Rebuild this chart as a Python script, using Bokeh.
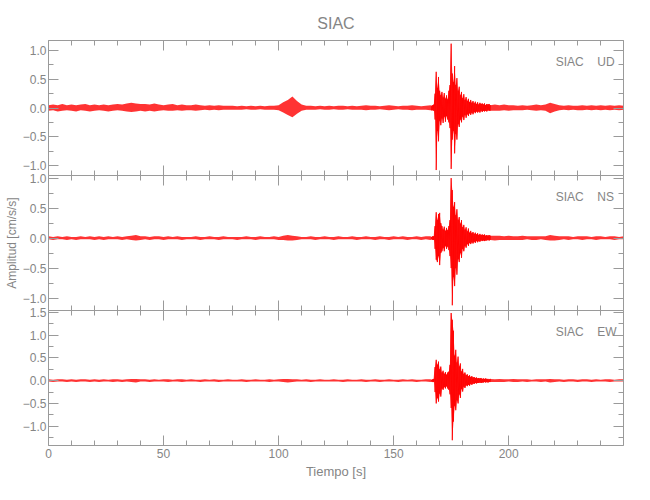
import numpy as np
from bokeh.plotting import figure
from bokeh.layouts import column
from bokeh.models import (LinearAxis, SingleIntervalTicker, FixedTicker, Range1d, Label, Title,
                          CustomJSTickFormatter)
from bokeh.embed import file_html
from bokeh.resources import INLINE

# ---------------- data (envelope of each trace) ----------------
# sample times [s]: quiet part, event part (finer), tail part
t_base = np.arange(0, 167, 2.0)          # 0 .. 166
t_event = np.arange(166.5, 192.01, 0.5)  # 166.5 .. 192
t_tail = np.arange(194, 251, 2.0)        # 194 .. 250

# UD component (upper / lower envelope, cm/s/s)
ud_hi_base = [0.05, 0.06, 0.05, 0.07, 0.05, 0.06, 0.05, 0.06, 0.07, 0.05, 0.06,
              0.05, 0.06, 0.05, 0.06, 0.07, 0.06, 0.08, 0.09, 0.08, 0.07,
              0.07, 0.06, 0.08, 0.06, 0.05, 0.06, 0.07, 0.05, 0.06, 0.05,
              0.05, 0.06, 0.05, 0.04, 0.05, 0.04, 0.05, 0.04, 0.04, 0.04,
              0.03, 0.04, 0.03, 0.04, 0.03, 0.04, 0.03, 0.04, 0.04, 0.05,
              0.10, 0.14, 0.20, 0.12, 0.06, 0.04, 0.04, 0.03, 0.04, 0.03,
              0.04, 0.03, 0.04, 0.04, 0.03, 0.04, 0.03, 0.04, 0.05, 0.04,
              0.04, 0.03, 0.04, 0.05, 0.04, 0.03, 0.04, 0.04, 0.05, 0.04, 0.03, 0.04, 0.05]
ud_lo_base = [-0.05, -0.04, -0.06, -0.05, -0.04, -0.05, -0.06, -0.04, -0.05, -0.06, -0.05,
              -0.04, -0.05, -0.06, -0.05, -0.04, -0.05, -0.06, -0.07, -0.06, -0.05,
              -0.06, -0.05, -0.06, -0.05, -0.04, -0.05, -0.05, -0.04, -0.05, -0.04,
              -0.04, -0.05, -0.04, -0.03, -0.04, -0.03, -0.04, -0.03, -0.03, -0.03,
              -0.03, -0.03, -0.02, -0.03, -0.03, -0.02, -0.03, -0.03, -0.03, -0.04,
              -0.08, -0.12, -0.16, -0.10, -0.05, -0.03, -0.03, -0.03, -0.02, -0.03,
              -0.03, -0.02, -0.03, -0.03, -0.02, -0.03, -0.03, -0.03, -0.04, -0.03,
              -0.03, -0.02, -0.03, -0.04, -0.03, -0.02, -0.03, -0.03, -0.04, -0.03, -0.03, -0.03, -0.04]
ud_hi_event = [0.04, 0.05, 0.06, 0.25, 0.63, 0.35, 0.54, 0.30, 0.22, 0.28,
               0.18, 0.26, 0.16, 0.22, 0.15, 0.30, 0.40, 1.12, 0.60, 0.45,
               0.73, 0.40, 0.52, 0.30, 0.37, 0.22, 0.28, 0.17, 0.24, 0.14,
               0.19, 0.12, 0.16, 0.10, 0.14, 0.09, 0.12, 0.08, 0.11, 0.07,
               0.10, 0.06, 0.09, 0.07, 0.08, 0.06, 0.08, 0.05, 0.07, 0.06,
               0.07, 0.05]
ud_lo_event = [-0.04, -0.04, -0.05, -0.20, -1.08, -0.40, -0.58, -0.22, -0.30, -0.18,
               -0.26, -0.15, -0.24, -0.14, -0.20, -0.25, -0.35, -1.06, -0.55, -0.40,
               -0.79, -0.45, -0.55, -0.28, -0.33, -0.20, -0.25, -0.15, -0.21, -0.12,
               -0.17, -0.11, -0.14, -0.09, -0.12, -0.08, -0.11, -0.07, -0.09, -0.06,
               -0.08, -0.06, -0.08, -0.05, -0.07, -0.05, -0.06, -0.05, -0.06, -0.04,
               -0.05, -0.05]
ud_hi_tail = [0.06, 0.05, 0.06, 0.05, 0.05, 0.04, 0.05, 0.04, 0.05, 0.06,
              0.05, 0.06, 0.09, 0.07, 0.05, 0.04, 0.05, 0.04, 0.04, 0.05,
              0.04, 0.05, 0.04, 0.05, 0.04, 0.05, 0.04, 0.05, 0.04]
ud_lo_tail = [-0.05, -0.05, -0.04, -0.05, -0.04, -0.04, -0.04, -0.03, -0.04, -0.05,
              -0.04, -0.05, -0.09, -0.06, -0.04, -0.03, -0.04, -0.03, -0.04, -0.04,
              -0.03, -0.04, -0.03, -0.04, -0.03, -0.04, -0.03, -0.04, -0.03]

# NS component
ns_hi_base = [0.03, 0.02, 0.03, 0.02, 0.03, 0.02, 0.02, 0.03, 0.02, 0.03, 0.02,
              0.03, 0.02, 0.03, 0.02, 0.03, 0.02, 0.03, 0.04, 0.05, 0.03,
              0.03, 0.02, 0.03, 0.03, 0.02, 0.03, 0.02, 0.03, 0.02, 0.02,
              0.02, 0.03, 0.02, 0.02, 0.03, 0.02, 0.02, 0.03, 0.02, 0.02,
              0.02, 0.02, 0.03, 0.02, 0.02, 0.03, 0.02, 0.02, 0.03, 0.02,
              0.04, 0.05, 0.04, 0.03, 0.02, 0.02, 0.03, 0.02, 0.02, 0.03,
              0.02, 0.02, 0.03, 0.02, 0.02, 0.03, 0.02, 0.02, 0.03, 0.02,
              0.02, 0.03, 0.02, 0.02, 0.03, 0.02, 0.03, 0.02, 0.02, 0.03, 0.02, 0.03, 0.03]
ns_lo_base = [-0.02, -0.03, -0.02, -0.02, -0.03, -0.02, -0.03, -0.02, -0.02, -0.02, -0.03,
              -0.02, -0.03, -0.02, -0.02, -0.02, -0.03, -0.02, -0.03, -0.04, -0.03,
              -0.02, -0.03, -0.02, -0.02, -0.03, -0.02, -0.02, -0.02, -0.03, -0.02,
              -0.02, -0.02, -0.03, -0.02, -0.02, -0.02, -0.03, -0.02, -0.02, -0.02,
              -0.03, -0.02, -0.02, -0.02, -0.03, -0.02, -0.02, -0.02, -0.02, -0.03,
              -0.03, -0.04, -0.04, -0.03, -0.02, -0.02, -0.02, -0.03, -0.02, -0.02,
              -0.02, -0.03, -0.02, -0.02, -0.02, -0.02, -0.03, -0.02, -0.02, -0.02,
              -0.03, -0.02, -0.02, -0.03, -0.02, -0.02, -0.02, -0.03, -0.02, -0.02, -0.03, -0.02, -0.03]
ns_hi_event = [0.02, 0.03, 0.03, 0.20, 0.43, 0.30, 0.40, 0.42, 0.25, 0.20,
               0.14, 0.19, 0.12, 0.17, 0.13, 0.20, 0.30, 1.00, 0.80, 0.52,
               0.60, 0.38, 0.48, 0.30, 0.35, 0.24, 0.30, 0.18, 0.22, 0.14,
               0.18, 0.11, 0.16, 0.09, 0.12, 0.08, 0.10, 0.07, 0.09, 0.06,
               0.08, 0.05, 0.07, 0.05, 0.06, 0.05, 0.06, 0.04, 0.05, 0.04,
               0.05, 0.04]
ns_lo_event = [-0.02, -0.03, -0.03, -0.18, -0.36, -0.40, -0.30, -0.45, -0.25, -0.22,
               -0.16, -0.22, -0.13, -0.18, -0.14, -0.20, -0.30, -0.50, -1.12, -0.65,
               -0.80, -0.50, -0.61, -0.35, -0.40, -0.25, -0.33, -0.18, -0.22, -0.13,
               -0.16, -0.10, -0.13, -0.08, -0.10, -0.07, -0.09, -0.06, -0.08, -0.05,
               -0.07, -0.05, -0.06, -0.04, -0.05, -0.04, -0.05, -0.04, -0.04, -0.03,
               -0.04, -0.03]
ns_hi_tail = [0.04, 0.04, 0.03, 0.04, 0.03, 0.03, 0.04, 0.03, 0.03, 0.03,
              0.03, 0.03, 0.05, 0.04, 0.03, 0.03, 0.03, 0.02, 0.03, 0.03,
              0.03, 0.02, 0.03, 0.03, 0.02, 0.03, 0.03, 0.02, 0.03]
ns_lo_tail = [-0.04, -0.03, -0.03, -0.03, -0.03, -0.03, -0.03, -0.02, -0.03, -0.03,
              -0.02, -0.03, -0.04, -0.04, -0.03, -0.02, -0.03, -0.02, -0.02, -0.03,
              -0.02, -0.02, -0.03, -0.02, -0.02, -0.02, -0.03, -0.02, -0.02]

# EW component
ew_hi_base = [0.03, 0.02, 0.03, 0.03, 0.02, 0.03, 0.02, 0.03, 0.03, 0.02, 0.03,
              0.02, 0.03, 0.02, 0.03, 0.03, 0.02, 0.03, 0.04, 0.04, 0.03,
              0.03, 0.02, 0.03, 0.02, 0.03, 0.03, 0.02, 0.03, 0.03, 0.02,
              0.03, 0.02, 0.02, 0.03, 0.02, 0.03, 0.02, 0.02, 0.03, 0.02,
              0.02, 0.03, 0.02, 0.02, 0.03, 0.02, 0.02, 0.03, 0.02, 0.03,
              0.04, 0.04, 0.03, 0.03, 0.02, 0.03, 0.02, 0.02, 0.03, 0.02,
              0.02, 0.03, 0.02, 0.02, 0.03, 0.02, 0.02, 0.03, 0.02, 0.02,
              0.03, 0.02, 0.02, 0.03, 0.02, 0.02, 0.03, 0.02, 0.03, 0.02, 0.02, 0.03, 0.03]
ew_lo_base = [-0.02, -0.03, -0.02, -0.02, -0.03, -0.02, -0.03, -0.02, -0.02, -0.03, -0.02,
              -0.03, -0.02, -0.02, -0.03, -0.02, -0.03, -0.02, -0.03, -0.04, -0.02,
              -0.02, -0.03, -0.02, -0.02, -0.02, -0.03, -0.02, -0.02, -0.03, -0.02,
              -0.02, -0.02, -0.03, -0.02, -0.02, -0.02, -0.03, -0.02, -0.02, -0.02,
              -0.02, -0.02, -0.03, -0.02, -0.02, -0.02, -0.02, -0.03, -0.02, -0.02,
              -0.03, -0.04, -0.03, -0.02, -0.02, -0.02, -0.03, -0.02, -0.02, -0.02,
              -0.02, -0.02, -0.02, -0.03, -0.02, -0.02, -0.02, -0.02, -0.03, -0.02,
              -0.02, -0.03, -0.02, -0.02, -0.02, -0.03, -0.02, -0.02, -0.02, -0.03, -0.02, -0.02, -0.03]
ew_hi_event = [0.02, 0.03, 0.04, 0.30, 0.46, 0.35, 0.42, 0.25, 0.31, 0.18,
               0.22, 0.15, 0.19, 0.13, 0.18, 0.20, 0.35, 1.49, 1.34, 1.10,
               0.55, 0.68, 0.40, 0.53, 0.31, 0.38, 0.20, 0.26, 0.15, 0.18,
               0.12, 0.14, 0.10, 0.12, 0.08, 0.10, 0.07, 0.08, 0.06, 0.07,
               0.05, 0.06, 0.05, 0.06, 0.04, 0.05, 0.04, 0.05, 0.04, 0.04,
               0.03, 0.04]
ew_lo_event = [-0.02, -0.03, -0.03, -0.25, -0.50, -0.38, -0.46, -0.28, -0.35, -0.17,
               -0.20, -0.14, -0.17, -0.12, -0.17, -0.20, -0.30, -0.60, -1.31, -0.90,
               -0.55, -0.65, -0.43, -0.50, -0.30, -0.38, -0.18, -0.24, -0.13, -0.16,
               -0.10, -0.12, -0.09, -0.11, -0.07, -0.09, -0.06, -0.07, -0.05, -0.06,
               -0.05, -0.05, -0.04, -0.05, -0.04, -0.04, -0.03, -0.04, -0.03, -0.04,
               -0.03, -0.03]
ew_hi_tail = [0.03, 0.04, 0.03, 0.03, 0.04, 0.03, 0.03, 0.03, 0.02, 0.03,
              0.03, 0.03, 0.04, 0.03, 0.03, 0.02, 0.03, 0.03, 0.02, 0.03,
              0.03, 0.02, 0.03, 0.02, 0.03, 0.03, 0.02, 0.03, 0.03]
ew_lo_tail = [-0.03, -0.03, -0.03, -0.02, -0.03, -0.03, -0.02, -0.03, -0.02, -0.02,
              -0.03, -0.02, -0.04, -0.03, -0.02, -0.03, -0.02, -0.02, -0.03, -0.02,
              -0.02, -0.03, -0.02, -0.02, -0.02, -0.03, -0.02, -0.02, -0.02]

station = "SIAC"
components = ["UD", "NS", "EW"]
y_ranges = [(-1.175, 1.175), (-1.207, 1.043), (-1.426, 1.545)]
x_range = (0, 249.9)
x_label = "Tiempo [s]"
y_label = "Amplitud [cm/s/s]"

# ---------------- styling ----------------
FONT = "Liberation Sans"
AXC = "#9a9a9a"
TXC = "#858585"
RED = "#ff0000"
OVER = 14  # px of overlap between stacked panels (room for edge tick labels)

x_major = list(np.arange(0, 251, 50.0))
x_minor = [v for v in np.arange(0, 251, 10.0) if v % 50 != 0]
y_major = list(np.arange(-2.0, 2.01, 0.5))
y_minor = list(np.arange(-1.75, 2.0, 0.5))


def style(ax):
    ax.axis_line_color = AXC
    ax.major_tick_line_color = AXC
    ax.minor_tick_line_color = AXC
    ax.major_tick_out = 0
    ax.minor_tick_out = 0
    ax.major_label_text_font = FONT
    ax.major_label_text_color = TXC
    return ax


def labelled_axis(interval, minors, fmt):
    ax = style(LinearAxis(ticker=SingleIntervalTicker(interval=interval, num_minor_ticks=minors)))
    ax.major_tick_in = 10
    ax.minor_tick_in = 5
    ax.major_label_text_font_size = "12px"
    ax.formatter = CustomJSTickFormatter(code=fmt)
    return ax


def tick_only_axes(p, side, majors, minors):
    # axes without labels: major and minor ticks drawn inward
    for locs, length in ((majors, 10), (minors, 5)):
        ax = style(LinearAxis(ticker=FixedTicker(ticks=[], minor_ticks=list(locs))))
        ax.major_tick_in = 0
        ax.minor_tick_in = length
        ax.major_label_standoff = 0
        p.add_layout(ax, side)


def panel(i, hi_parts, lo_parts, first, last):
    p = figure(frame_width=575, frame_height=135,
               x_range=Range1d(*x_range), y_range=Range1d(*y_ranges[i]),
               output_backend="svg", toolbar_location=None,
               x_axis_location=None, y_axis_location=None)
    p.xgrid.visible = False
    p.ygrid.visible = False
    p.min_border_left = 48
    p.min_border_right = 27
    p.min_border_top = 40 if first else OVER
    p.min_border_bottom = 50 if last else 0
    if not first:
        p.margin = (-OVER, 0, 0, 0)
        p.border_fill_color = None
    else:
        p.border_fill_color = "white"
    p.outline_line_color = None
    p.background_fill_color = "white"

    lax = labelled_axis(0.5, 2, "return tick.toFixed(1).replace('-', '\u2212');")
    lax.major_label_standoff = 2
    p.add_layout(lax, "left")
    tick_only_axes(p, "right", y_major, y_minor)
    tick_only_axes(p, "above", x_major, x_minor)
    if last:
        bx = labelled_axis(50, 5, "return tick.toFixed(0);")
        bx.major_label_standoff = 3
        bx.axis_label = x_label
        bx.axis_label_text_font = FONT
        bx.axis_label_text_font_style = "normal"
        bx.axis_label_text_font_size = "13px"
        bx.axis_label_text_color = TXC
        bx.axis_label_standoff = 3
        p.add_layout(bx, "below")
    else:
        tick_only_axes(p, "below", x_major, x_minor)

    t = np.concatenate([t_base, t_event, t_tail])
    hi = np.concatenate([np.asarray(a, float) for a in hi_parts])
    lo = np.concatenate([np.asarray(a, float) for a in lo_parts])
    assert len(t) == len(hi) == len(lo), (len(t), len(hi), len(lo))

    # envelope band of the trace
    p.varea(x=t, y1=lo, y2=hi, fill_color=RED, fill_alpha=0.8)
    # oscillating trace through the finely sampled event part
    te = np.asarray(t_event)
    he = np.asarray(hi_parts[1], float)
    le = np.asarray(lo_parts[1], float)
    p.line(np.repeat(te, 2), np.column_stack([he, le]).ravel(), line_color=RED, line_width=0.8)

    ytxt = y_ranges[i][1] - 21.0 / 135.0 * (y_ranges[i][1] - y_ranges[i][0])
    p.add_layout(Label(x=232.6, y=ytxt, text=station, text_align="right", text_baseline="middle",
                       text_font=FONT, text_font_size="12px", text_color=TXC))
    p.add_layout(Label(x=238.5, y=ytxt, text=components[i], text_align="left", text_baseline="middle",
                       text_font=FONT, text_font_size="12px", text_color=TXC))

    if first:
        p.title.text = station
        p.title.align = "center"
        p.title.text_font = FONT
        p.title.text_font_size = "16px"
        p.title.text_font_style = "normal"
        p.title.text_color = TXC
        p.title.standoff = 17
    return p


p1 = panel(0, [ud_hi_base, ud_hi_event, ud_hi_tail], [ud_lo_base, ud_lo_event, ud_lo_tail], True, False)
p2 = panel(1, [ns_hi_base, ns_hi_event, ns_hi_tail], [ns_lo_base, ns_lo_event, ns_lo_tail], False, False)
p3 = panel(2, [ew_hi_base, ew_hi_event, ew_hi_tail], [ew_lo_base, ew_lo_event, ew_lo_tail], False, True)

# y-axis title, on the left of the middle panel
p2.add_layout(Title(text=y_label, align="center", text_font=FONT, text_font_size="12px",
                    text_font_style="normal", text_color=TXC, standoff=1), "left")

layout = column(p1, p2, p3, spacing=0)
open("out.html", "w").write(file_html(layout, INLINE))
